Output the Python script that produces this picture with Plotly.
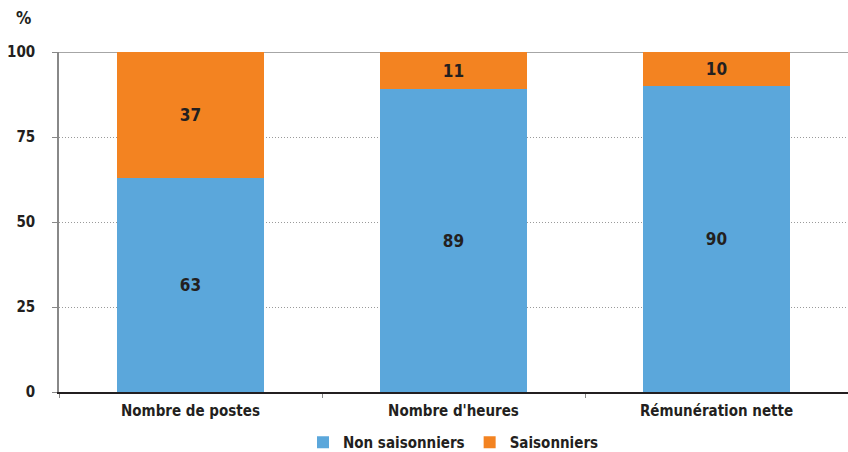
import plotly.graph_objects as go

categories = ["Nombre de postes", "Nombre d'heures", "Rémunération nette"]
non_saisonniers = [63, 89, 90]
saisonniers = [37, 11, 10]
y_ticks = [0, 25, 50, 75, 100]

FONT = "DejaVu Sans Condensed, Liberation Sans Narrow, Arial Narrow, sans-serif"
BLUE = "#5BA7DB"
ORANGE = "#F38321"
TEXT = "#231F20"

fig = go.Figure()
fig.add_trace(go.Bar(
    x=categories, y=non_saisonniers, name="Non saisonniers",
    marker=dict(color=BLUE, line=dict(width=0)),
    text=non_saisonniers, textposition="inside", insidetextanchor="middle",
    textfont=dict(family=FONT, size=17, color=TEXT, weight="bold"),
))
fig.add_trace(go.Bar(
    x=categories, y=saisonniers, name="Saisonniers",
    marker=dict(color=ORANGE, line=dict(width=0)),
    text=saisonniers, textposition="inside", insidetextanchor="middle",
    textfont=dict(family=FONT, size=17, color=TEXT, weight="bold"),
))

fig.update_layout(
    width=848, height=452,
    barmode="stack", bargap=0.44,
    plot_bgcolor="white", paper_bgcolor="white",
    margin=dict(l=59, r=0, t=52, b=60, autoexpand=False),
    font=dict(family=FONT, size=15, color=TEXT, weight="bold"),
    uniformtext=dict(mode="show", minsize=17),
    showlegend=True,
    legend=dict(
        orientation="h", x=0.5, xanchor="center", y=-0.1, yanchor="top",
        font=dict(family=FONT, size=15, color=TEXT, weight="bold"),
        itemwidth=30, traceorder="normal",
    ),
    xaxis=dict(
        type="category", showgrid=False, showline=True, linecolor=TEXT, linewidth=1.5,
        ticks="outside", tickson="boundaries", ticklen=4, tickcolor="#888888",
        ticklabelstandoff=4,
        tickfont=dict(family=FONT, size=15, color=TEXT, weight="bold"),
    ),
    yaxis=dict(
        range=[0, 100], tickvals=y_ticks, showgrid=True,
        gridcolor="#9A9A9A", griddash="1px,2px", gridwidth=1,
        showline=True, linecolor="#888888", linewidth=1.5,
        ticks="outside", ticklen=5, tickcolor="#888888",
        ticklabelstandoff=14,
        tickfont=dict(family=FONT, size=15, color=TEXT, weight="bold"),
        zeroline=False,
    ),
    annotations=[dict(
        text="%", xref="paper", yref="paper", x=-0.0456, y=1.1,
        xanchor="center", yanchor="middle", showarrow=False,
        font=dict(family=FONT, size=17, color=TEXT, weight="bold"),
    )],
    shapes=[dict(
        type="line", xref="paper", yref="y", x0=0, x1=1, y0=y_ticks[-1], y1=y_ticks[-1],
        line=dict(color="#888888", width=1.5), layer="below",
    )],
)

fig.write_html("out.html")
